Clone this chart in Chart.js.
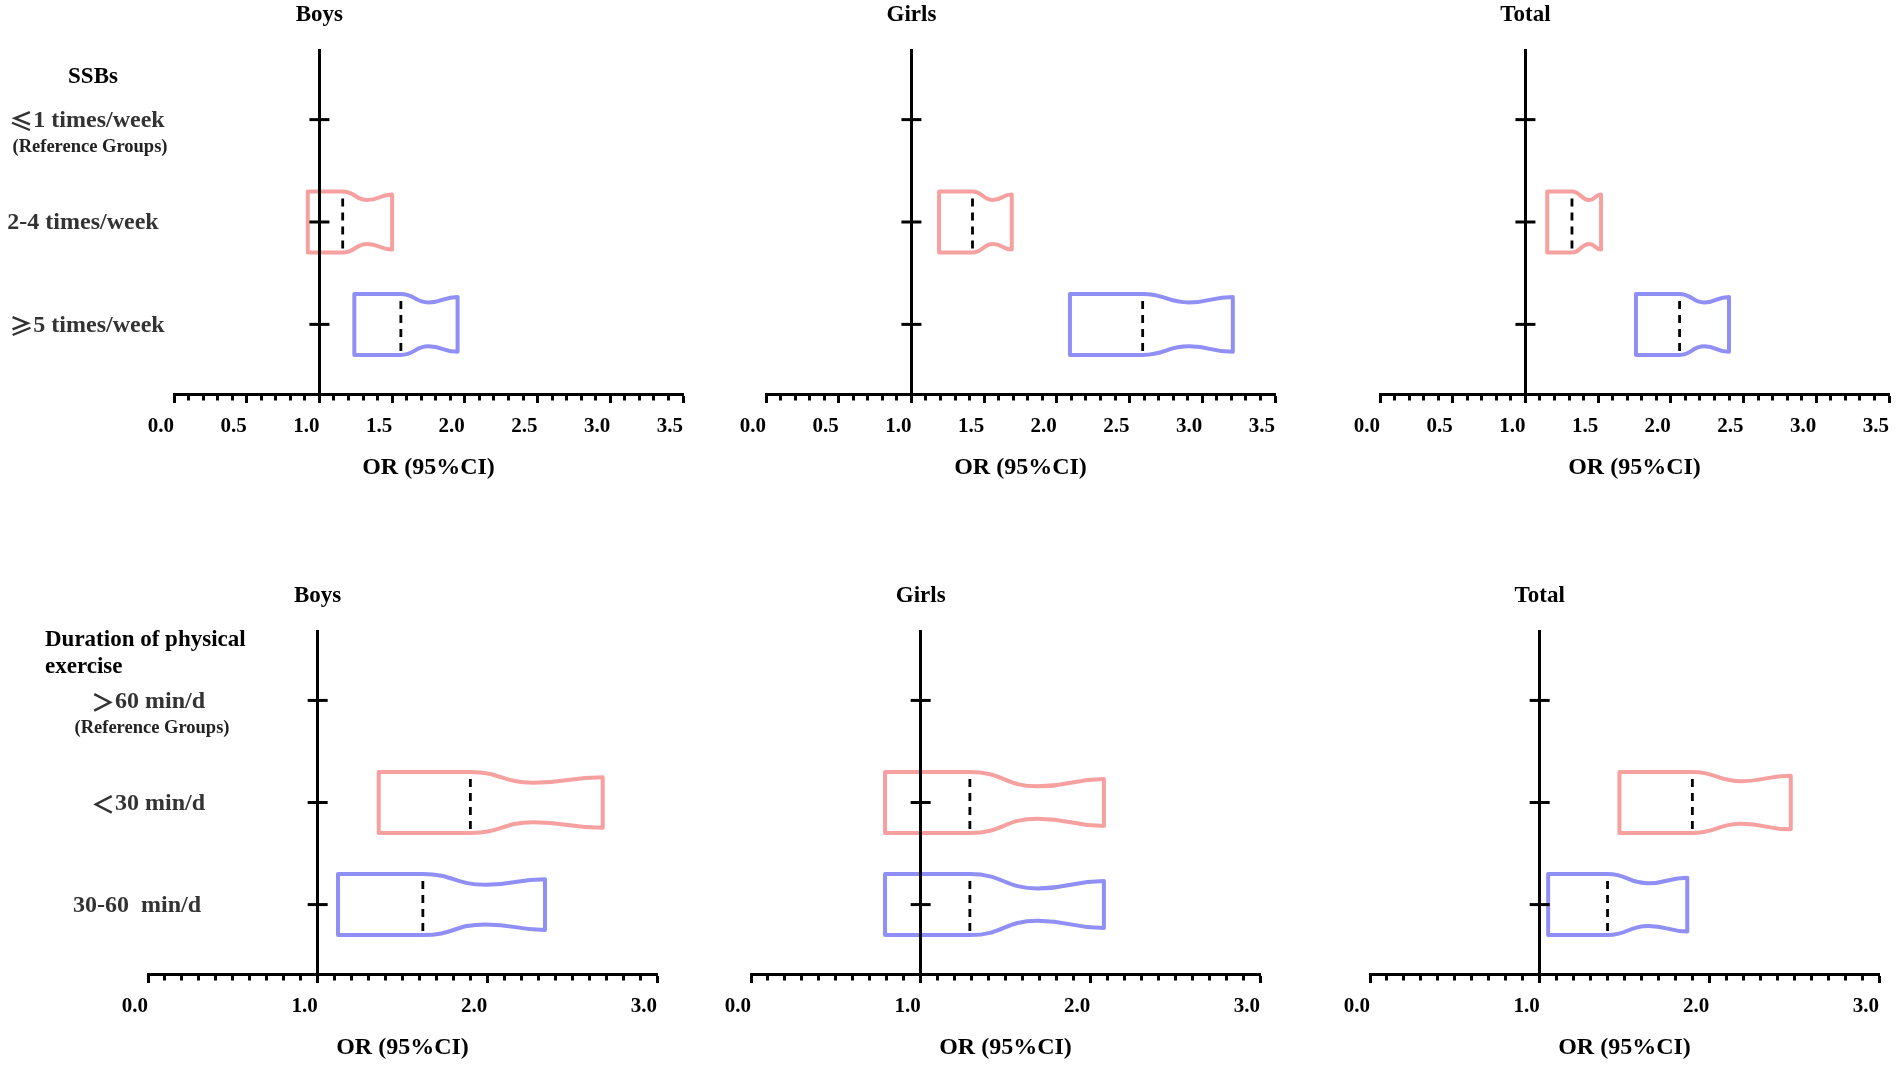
<!DOCTYPE html>
<html>
<head>
<meta charset="utf-8">
<script src="https://cdn.jsdelivr.net/npm/chart.js@4.4.1/dist/chart.umd.min.js"></script>
<style>
  html, body { margin: 0; padding: 0; background: #fff; width: 1902px; height: 1067px; overflow: hidden; position: relative; }
  canvas { position: absolute; }
</style>
</head>
<body>
<script>
// ===================== DATA =====================
const panelTitles = ['Boys', 'Girls', 'Total'];
const axisTitle = 'OR (95%CI)';
const rowPos = [0, 1, 2];
const refOR = 1;
const refNote = '(Reference Groups)';

// SSBs block (top row)
const ssbHeader = ['SSBs'];
const ssbLabels = ['≤1 times/week', '2-4 times/week', '≥5 times/week'];
const ssbTickValues = [0, 0.5, 1, 1.5, 2, 2.5, 3, 3.5];
const ssbTickLabels = ['0.0', '0.5', '1.0', '1.5', '2.0', '2.5', '3.0', '3.5'];

const ssbBoysLower  = [null, 0.92, 1.24];
const ssbBoysOR     = [null, 1.16, 1.56];
const ssbBoysWaist  = [null, 1.33, 1.75];
const ssbBoysUpper  = [null, 1.50, 1.95];

const ssbGirlsLower = [null, 1.19, 2.09];
const ssbGirlsOR    = [null, 1.42, 2.59];
const ssbGirlsWaist = [null, 1.56, 2.91];
const ssbGirlsUpper = [null, 1.69, 3.21];

const ssbTotalLower = [null, 1.15, 1.76];
const ssbTotalOR    = [null, 1.32, 2.06];
const ssbTotalWaist = [null, 1.44, 2.23];
const ssbTotalUpper = [null, 1.52, 2.40];

// Physical exercise block (bottom row)
const exHeader = ['Duration of physical', 'exercise'];
const exLabels = ['＞60 min/d', '＜30 min/d', '30-60  min/d'];
const exTickValues = [0, 1, 2, 3];
const exTickLabels = ['0.0', '1.0', '2.0', '3.0'];

const exBoysLower  = [null, 1.36, 1.12];
const exBoysOR     = [null, 1.90, 1.62];
const exBoysWaist  = [null, 2.27, 1.99];
const exBoysUpper  = [null, 2.68, 2.34];

const exGirlsLower = [null, 0.79, 0.79];
const exGirlsOR    = [null, 1.29, 1.29];
const exGirlsWaist = [null, 1.69, 1.69];
const exGirlsUpper = [null, 2.08, 2.08];

const exTotalLower = [null, 1.47, 1.05];
const exTotalOR    = [null, 1.90, 1.40];
const exTotalWaist = [null, 2.19, 1.64];
const exTotalUpper = [null, 2.48, 1.87];

// ===================== STYLE =====================
const boxColors = [null, 'rgb(246,160,160)', 'rgb(143,143,245)'];
const SERIF = '"Liberation Serif", "Times New Roman", serif';
Chart.defaults.font.family = SERIF;
Chart.defaults.color = '#000';

const rowLayouts = {
  top:    { top: 0,   height: 500, padTop: 50, padBottom: 17.6, xMax: 3.5 },
  bottom: { top: 570, height: 497, padTop: 61, padBottom: 4.6,  xMax: 3.0 }
};
const colLayouts = {
  top:    [{ left: 0, padLeft: 174 }, { left: 721, padLeft: 45 }, { left: 1335, padLeft: 45 }],
  bottom: [{ left: 0, padLeft: 148 }, { left: 706, padLeft: 45 }, { left: 1325, padLeft: 45 }]
};
const plotWidth = 516, padRight = 6;

// ===================== HELPERS =====================
const SYM = /[≤≥＞＜]/;
function drawMixed(ctx, text, x, y, size, color, align) {
  const serif = `bold ${size}px ${SERIF}`;
  const cjk = `bold ${size}px "Noto Sans CJK SC", sans-serif`;
  const runs = [];
  for (const ch of text) {
    const f = SYM.test(ch) ? cjk : serif;
    if (runs.length && runs[runs.length - 1].f === f) runs[runs.length - 1].t += ch;
    else runs.push({ t: ch, f });
  }
  ctx.save();
  ctx.textBaseline = 'middle';
  ctx.textAlign = 'left';
  ctx.fillStyle = color;
  let total = 0;
  runs.forEach(r => { ctx.font = r.f; r.w = ctx.measureText(r.t).width; total += r.w; });
  let cx = align === 'left' ? x : x - total / 2;
  runs.forEach(r => { ctx.font = r.f; ctx.fillText(r.t, cx, y); cx += r.w; });
  ctx.restore();
}

function findTick(values, v) {
  return values.findIndex(t => Math.abs(t - v) < 1e-6);
}

function boxPlugin(shape) {
  return {
    id: 'notchedBoxes',
    beforeDatasetsDraw(chart) {
      const ds = chart.data.datasets[0];
      const meta = chart.getDatasetMeta(0);
      const xs = chart.scales.x;
      const ctx = chart.ctx;
      meta.data.forEach((el, k) => {
        const i = ds.rowIdx[k];
        const p = el.getProps(['x', 'y', 'base', 'height'], true);
        const xL = Math.min(p.x, p.base), xR = Math.max(p.x, p.base);
        const xM = xs.getPixelForValue(ds.median[i]);
        const xN = xs.getPixelForValue(ds.waist[i]);
        const y = p.y;
        const hl = p.height / 2, hn = hl * shape.waist, hr = hl * shape.tail;
        const c1 = (xN - xM) / 2, c2 = (xR - xN) / 2;
        ctx.save();
        ctx.beginPath();
        ctx.moveTo(xL, y - hl);
        ctx.lineTo(xM, y - hl);
        ctx.bezierCurveTo(xM + c1, y - hl, xN - c1, y - hn, xN, y - hn);
        ctx.bezierCurveTo(xN + c2, y - hn, xR - c2, y - hr, xR, y - hr);
        ctx.lineTo(xR, y + hr);
        ctx.bezierCurveTo(xR - c2, y + hr, xN + c2, y + hn, xN, y + hn);
        ctx.bezierCurveTo(xN - c1, y + hn, xM + c1, y + hl, xM, y + hl);
        ctx.lineTo(xL, y + hl);
        ctx.closePath();
        ctx.lineWidth = 4;
        ctx.lineJoin = 'round';
        ctx.strokeStyle = ds.outline[i];
        ctx.stroke();
        ctx.beginPath();
        ctx.setLineDash([8, 6]);
        ctx.lineWidth = 2.8;
        ctx.strokeStyle = '#000';
        ctx.moveTo(xM, y - hl + 7);
        ctx.lineTo(xM, y + hl);
        ctx.stroke();
        ctx.restore();
      });
    }
  };
}

function textPlugin(spec) {
  return {
    id: 'panelText',
    afterDraw(chart) {
      const ctx = chart.ctx, xs = chart.scales.x, ys = chart.scales.y, ca = chart.chartArea;
      ctx.save();
      ctx.font = `bold 23px ${SERIF}`;
      ctx.fillStyle = '#000';
      ctx.textAlign = 'center';
      ctx.textBaseline = 'middle';
      ctx.fillText(spec.title, xs.getPixelForValue(refOR), ca.top - 35);
      ctx.restore();
      const s = spec.side;
      if (!s) return;
      const y0 = ys.getPixelForValue(rowPos[0]);
      s.header.forEach((h, j) => drawMixed(ctx, h, s.headerX, y0 + s.headerDy[j], 23, '#000', s.headerAlign));
      s.rows.forEach((t, j) => drawMixed(ctx, t, s.rowX[j], ys.getPixelForValue(rowPos[j]) + 1, 24, '#333', 'center'));
      drawMixed(ctx, refNote, s.noteX, y0 + 28, 18.5, '#222', 'center');
    }
  };
}

function buildPanel(spec) {
  const rl = rowLayouts[spec.row];
  const cl = colLayouts[spec.row][spec.col];
  const width = cl.padLeft + plotWidth + padRight;
  const cv = document.createElement('canvas');
  cv.width = width; cv.height = rl.height;
  cv.style.left = cl.left + 'px'; cv.style.top = rl.top + 'px';
  cv.style.width = width + 'px'; cv.style.height = rl.height + 'px';
  document.body.appendChild(cv);

  const idx = spec.lower.map((v, i) => (v == null ? -1 : i)).filter(i => i >= 0);
  const barData = idx.map(i => ({ x: [spec.lower[i], spec.upper[i]], y: rowPos[i] }));
  const tickValues = spec.tickValues, tickLabels = spec.tickLabels;

  new Chart(cv, {
    type: 'bar',
    data: {
      datasets: [
        {
          type: 'bar', indexAxis: 'y', data: barData,
          rowIdx: idx, median: spec.or, waist: spec.waist, outline: boxColors,
          backgroundColor: 'rgba(0,0,0,0)', borderWidth: 0, barThickness: 61,
          xAxisID: 'x', yAxisID: 'y'
        },
        {
          type: 'scatter', data: rowPos.map(r => ({ x: refOR, y: r })),
          pointStyle: 'line', pointRadius: 10, pointHoverRadius: 10,
          pointBorderWidth: 3, pointBorderColor: '#000', pointBackgroundColor: '#000',
          showLine: false, xAxisID: 'x', yAxisID: 'y'
        }
      ]
    },
    options: {
      responsive: false,
      maintainAspectRatio: false,
      animation: false,
      events: [],
      layout: { padding: { top: rl.padTop, bottom: rl.padBottom, left: cl.padLeft, right: padRight } },
      plugins: { legend: { display: false }, tooltip: { enabled: false }, title: { display: false } },
      scales: {
        x: {
          type: 'linear', position: 'bottom', min: 0, max: rl.xMax, offset: false,
          ticks: {
            stepSize: 0.1, maxTicksLimit: 40, autoSkip: false, maxRotation: 0, minRotation: 0,
            align: 'end', padding: 11.4, color: '#000',
            font: { size: 21, weight: 'bold', family: SERIF },
            callback: (v) => { const k = findTick(tickValues, v); return k >= 0 ? tickLabels[k] : ''; }
          },
          grid: {
            offset: false, drawOnChartArea: false, drawTicks: true, tickLength: 9,
            tickWidth: 3, tickColor: '#000',
            tickBorderDash: (c) => (c.tick && findTick(tickValues, c.tick.value) >= 0 ? [] : [4.5, 60])
          },
          border: { display: true, color: '#000', width: 3 },
          title: {
            display: true, text: axisTitle, color: '#000',
            font: { size: 24, weight: 'bold', family: SERIF },
            padding: { top: 2.6, bottom: 0 }
          }
        },
        y: {
          type: 'linear', min: -0.68, max: 2.68, reverse: true, offset: false,
          position: { x: refOR },
          ticks: { display: false },
          grid: { display: false, drawTicks: false, drawOnChartArea: false, offset: false },
          border: { display: true, color: '#000', width: 3, z: 1 }
        }
      }
    },
    plugins: [boxPlugin(spec.shape), textPlugin(spec)]
  });
}

// ===================== PANELS =====================
const topSide = {
  header: ssbHeader, headerX: 93, headerAlign: 'center', headerDy: [-42.7],
  rows: ssbLabels, rowX: [87, 83, 87], noteX: 90
};
const bottomSide = {
  header: exHeader, headerX: 45, headerAlign: 'left', headerDy: [-60.4, -33.4],
  rows: exLabels, rowX: [148, 148, 137], noteX: 152
};

const topShape = { waist: 0.72, tail: 0.9 };

buildPanel({ row: 'top', col: 0, title: panelTitles[0], side: topSide, tickValues: ssbTickValues, tickLabels: ssbTickLabels,
  lower: ssbBoysLower, or: ssbBoysOR, waist: ssbBoysWaist, upper: ssbBoysUpper, shape: topShape });
buildPanel({ row: 'top', col: 1, title: panelTitles[1], tickValues: ssbTickValues, tickLabels: ssbTickLabels,
  lower: ssbGirlsLower, or: ssbGirlsOR, waist: ssbGirlsWaist, upper: ssbGirlsUpper, shape: topShape });
buildPanel({ row: 'top', col: 2, title: panelTitles[2], tickValues: ssbTickValues, tickLabels: ssbTickLabels,
  lower: ssbTotalLower, or: ssbTotalOR, waist: ssbTotalWaist, upper: ssbTotalUpper, shape: topShape });

buildPanel({ row: 'bottom', col: 0, title: panelTitles[0], side: bottomSide, tickValues: exTickValues, tickLabels: exTickLabels,
  lower: exBoysLower, or: exBoysOR, waist: exBoysWaist, upper: exBoysUpper, shape: { waist: 0.65, tail: 0.83 } });
buildPanel({ row: 'bottom', col: 1, title: panelTitles[1], tickValues: exTickValues, tickLabels: exTickLabels,
  lower: exGirlsLower, or: exGirlsOR, waist: exGirlsWaist, upper: exGirlsUpper, shape: { waist: 0.53, tail: 0.77 } });
buildPanel({ row: 'bottom', col: 2, title: panelTitles[2], tickValues: exTickValues, tickLabels: exTickLabels,
  lower: exTotalLower, or: exTotalOR, waist: exTotalWaist, upper: exTotalUpper, shape: { waist: 0.7, tail: 0.88 } });
</script>
</body>
</html>
